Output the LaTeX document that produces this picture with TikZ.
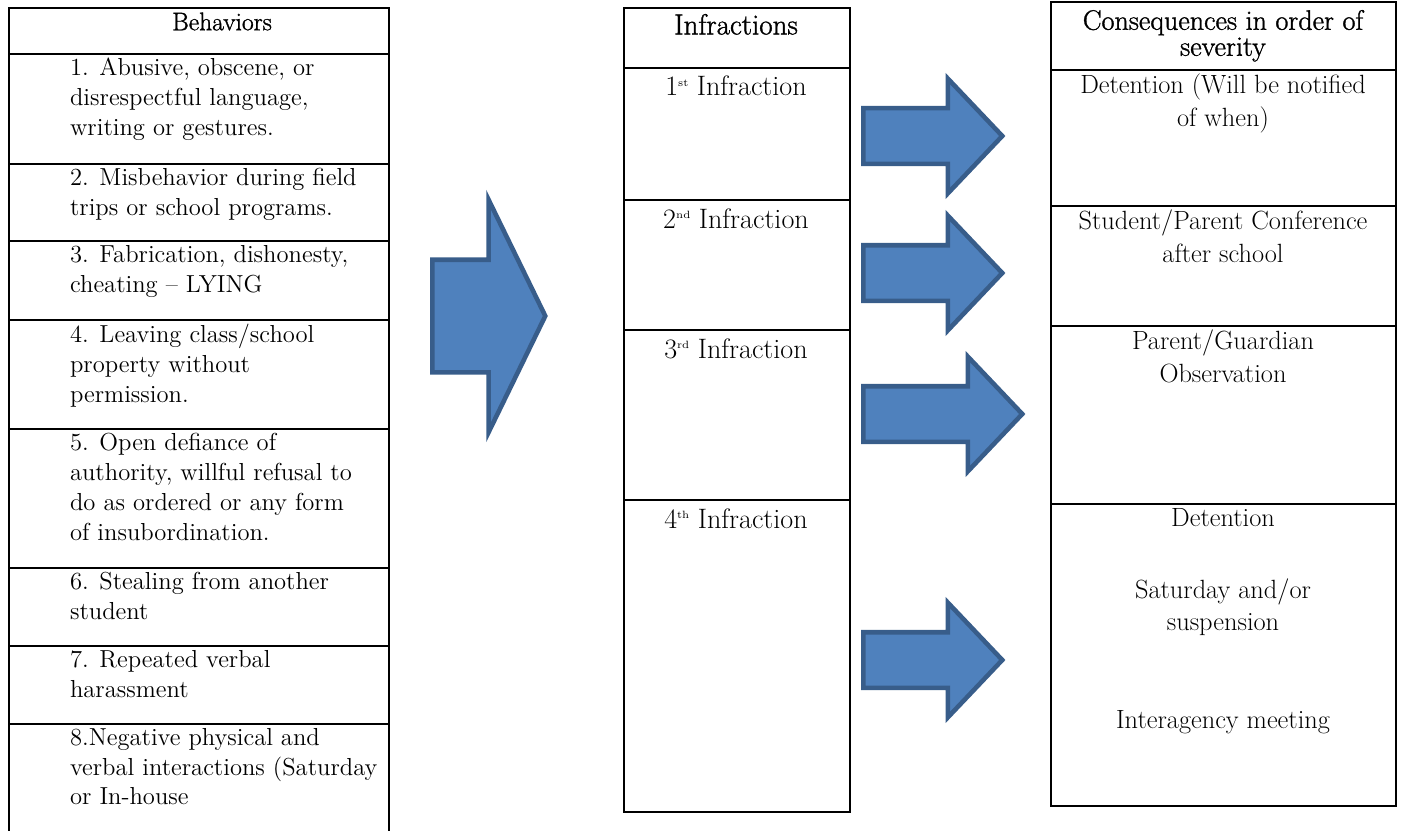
\documentclass[tikz,border=0pt]{standalone}
\usepackage{fontspec}
\usetikzlibrary{shapes.arrows}
\newfontfamily\headfont{Latin Modern Roman}[FakeBold=1.2]
\definecolor{cfill}{HTML}{4F81BD}
\definecolor{cedge}{HTML}{385D8A}
\newcommand\ordsup[1]{\raisebox{0.8ex}{\fontsize{6}{6}\selectfont #1}}
\tikzset{
  every picture/.style={x=0.2mm, y=-0.2mm, line width=1.2pt},
  cell/.style={draw, inner sep=0pt, anchor=north west},
  headtext/.style={font=\headfont\fontsize{#1}{14.8}\selectfont, align=center, anchor=north,
    inner sep=0pt, execute at begin node=\strut},
  btext/.style={font=\fontsize{14}{17}\selectfont, align=left, anchor=north west,
    inner sep=0pt, execute at begin node=\strut},
  itext/.style={font=\fontsize{16}{19}\selectfont, anchor=base, inner sep=0pt},
  ctext/.style={font=\fontsize{15}{18.5}\selectfont, align=center, anchor=north,
    inner sep=0pt, execute at begin node=\strut},
  blockarrow/.style={single arrow, draw=cedge, fill=cfill, line width=2.6pt, anchor=tail,
    inner xsep=0pt, inner ysep=5.1mm, single arrow head extend=5.9mm,
    single arrow tip angle=93, minimum height=27.8mm},
}
\begin{document}
\begin{tikzpicture}
  \useasboundingbox (0,0) rectangle (1403,831);
  % behaviors
  \node[cell, minimum width=76mm, minimum height=9.2mm] (b0) at (8,7) {};
  \node[headtext=14.5] (bh) at (222,11) {Behaviors};
  \foreach \i/\t/\b/\s in {
      1/53/163/{1. Abusive, obscene, or\\disrespectful language,\\writing or gestures.},
      2/163/240/{2. Misbehavior during field\\trips or school programs.},
      3/240/319/{3. Fabrication, dishonesty,\\cheating -- LYING},
      4/319/428/{4. Leaving class/school\\property without\\permission.},
      5/428/567/{5. Open defiance of\\authority, willful refusal to\\do as ordered or any form\\of insubordination.},
      6/567/645/{6. Stealing from another\\student},
      7/645/723/{7. Repeated verbal\\harassment},
      8/723/840/{8.Negative physical and\\verbal interactions (Saturday\\or In-house}}
  {
    \node[cell, minimum width=76mm, minimum height={(\b-\t)*0.2mm}] (b\i) at (8,\t) {};
    \node[btext] (bt\i) at (69,\t+4) {\s};
  }
  % infractions
  \node[cell, minimum width=45.2mm, minimum height=12mm] (i0) at (623,7) {};
  \node[headtext=16.5] (ih) at (736,13) {Infractions};
  \foreach \i/\t/\b/\s in {1/67/199/st, 2/199/329/nd, 3/329/499/rd, 4/499/811/th}
  {
    \node[cell, minimum width=45.2mm, minimum height={(\b-\t)*0.2mm}] (i\i) at (623,\t) {};
    \node[itext] (it\i) at (736,\t+29) {\i\ordsup{\s} Infraction};
  }
  % consequences
  \node[cell, minimum width=69mm, minimum height=13.6mm] (c0) at (1050,1) {};
  \node[headtext=16] (ch) at (1223,9) {Consequences in order of\\severity};
  \foreach \i/\t/\b/\s in {
      1/69/205/{Detention (Will be notified\\of when)},
      2/205/325/{Student/Parent Conference\\after school},
      3/325/503/{Parent/Guardian\\Observation},
      4/503/805/{Detention\\[22.5pt]Saturday and/or\\suspension\\[37pt]Interagency meeting}}
  {
    \node[cell, minimum width=69mm, minimum height={(\b-\t)*0.2mm}] (c\i) at (1050,\t) {};
    \node[ctext] (ct\i) at (1223,\t+4) {\s};
  }
  % arrows
  \node[blockarrow, inner ysep=10.8mm, single arrow head extend=12mm,
    single arrow tip angle=128, minimum height=22.6mm] (big) at (430,316) {};
  \node[blockarrow] (ar1) at (861,136) {};
  \node[blockarrow] (ar2) at (861,273) {};
  \node[blockarrow, minimum height=31.8mm] (ar3) at (861,414) {};
  \node[blockarrow] (ar4) at (861,660) {};
\end{tikzpicture}
\end{document}
